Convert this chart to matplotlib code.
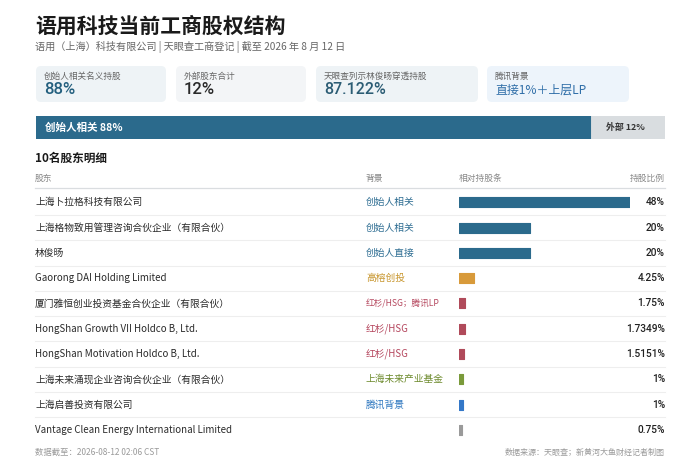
import matplotlib
matplotlib.use("Agg")
import matplotlib.pyplot as plt
from matplotlib.patches import FancyBboxPatch

plt.rcParams['font.family'] = ['Noto Sans CJK SC', 'DejaVu Sans']
NUM_FONT = ['Roboto', 'Noto Sans CJK SC', 'DejaVu Sans']

# ---------------- data ----------------
title = "语用科技当前工商股权结构"
subtitle = "语用（上海）科技有限公司 | 天眼查工商登记 | 截至 2026 年 8 月 12 日"

card_labels = ["创始人相关名义持股", "外部股东合计", "天眼查列示林俊旸穿透持股", "腾讯背景"]
card_values = ["88%", "12%", "87.122%", "直接1%＋上层LP"]

stack_labels = ["创始人相关", "外部"]
stack_values = [88, 12]

names = [
    "上海卜拉格科技有限公司",
    "上海格物致用管理咨询合伙企业（有限合伙）",
    "林俊旸",
    "Gaorong DAI Holding Limited",
    "厦门雅恒创业投资基金合伙企业（有限合伙）",
    "HongShan Growth VII Holdco B, Ltd.",
    "HongShan Motivation Holdco B, Ltd.",
    "上海未来涌现企业咨询合伙企业（有限合伙）",
    "上海启善投资有限公司",
    "Vantage Clean Energy International Limited",
]
backgrounds = ["创始人相关", "创始人相关", "创始人直接", "高榕创投", "红杉/HSG；腾讯LP",
               "红杉/HSG", "红杉/HSG", "上海未来产业基金", "腾讯背景", ""]
shares = [48, 20, 20, 4.25, 1.75, 1.7349, 1.5151, 1, 1, 0.75]

# ---------------- styles ----------------
BLUE = "#2B6A8C"
bg_text_colors = ["#2F6E93", "#2F6E93", "#2F6E93", "#C8962E", "#B5475E",
                  "#B5475E", "#B5475E", "#6E8B2E", "#2F78C0", "#888888"]
bar_colors = [BLUE, BLUE, BLUE, "#D89A3A", "#B04A5A",
              "#B04A5A", "#B04A5A", "#7A9A3A", "#3478C8", "#9A9A9A"]

W, H = 700, 467
fig = plt.figure(figsize=(W / 100, H / 100), dpi=100)
fig.patch.set_facecolor("white")
ax = fig.add_axes([0, 0, 1, 1])
ax.set_xlim(0, W)
ax.set_ylim(H, 0)
ax.axis("off")

L, R = 35, 665

# title
ax.text(L, 26, title, fontsize=15, fontweight="bold", color="#1a1a1a", va="center", ha="left")
ax.text(L, 47, subtitle, fontsize=7.3, color="#666666", va="center", ha="left")

# cards
card_x = [36, 176, 316, 487]
card_w = [130, 130, 162, 142]
card_bg = ["#EEF3F6", "#F3F5F7", "#EEF3F6", "#EDF4FB"]
card_val_col = ["#235F7E", "#2a2a2a", "#2B5C74", "#2F6EA8"]
card_val_size = [12, 12, 11.5, 8.6]
for k, (x0, w, lab, val, bgc, vc, vs) in enumerate(zip(card_x, card_w, card_labels, card_values,
                                                       card_bg, card_val_col, card_val_size)):
    ax.add_patch(FancyBboxPatch((x0, 66), w, 36, boxstyle="round,pad=0,rounding_size=5",
                                fc=bgc, ec="none"))
    ax.text(x0 + 8, 76, lab, fontsize=6.2, color="#666666", va="center", ha="left")
    if k < 3:
        ax.text(x0 + 8, 90, val, fontsize=vs, color=vc, va="center", ha="left",
                family=NUM_FONT, fontweight="medium")
    else:
        ax.text(x0 + 8, 90, val, fontsize=vs, color=vc, va="center", ha="left")

# stacked bar
ax_s = fig.add_axes([36 / W, 1 - 139 / H, 629 / W, 23 / H])
ax_s.set_xlim(0, sum(stack_values))
ax_s.set_ylim(-0.5, 0.5)
ax_s.axis("off")
ax_s.barh(0, stack_values[1], left=stack_values[0], height=1.0, color="#D9DDE0", lw=0)
ax_s.barh(0, stack_values[0], left=0, height=1.0, color=BLUE, ec=BLUE, lw=1.5, joinstyle="round")
ax_s.text(1.5, 0, f"{stack_labels[0]} {stack_values[0]}%", fontsize=7.6, fontweight="bold",
          color="white", va="center", ha="left")
ax_s.text(stack_values[0] + 2.6, 0, f"{stack_labels[1]} {stack_values[1]}%", fontsize=6.4,
          fontweight="bold", color="#333333", va="center", ha="left")

# section title and header
ax.text(L, 158, "10名股东明细", fontsize=8.4, fontweight="bold", color="#1a1a1a", va="center", ha="left")
hy = 178
ax.text(L, hy, "股东", fontsize=6.3, color="#888888", va="center", ha="left")
ax.text(366, hy, "背景", fontsize=6.3, color="#888888", va="center", ha="left")
ax.text(459, hy, "相对持股条", fontsize=6.3, color="#888888", va="center", ha="left")
ax.text(R, hy, "持股比例", fontsize=6.3, color="#888888", va="center", ha="right")
ax.plot([L, R], [188, 188], color="#DADDE0", lw=0.9)

# rows
y0, dy = 202.3, 25.3
n = len(names)
for i in range(n):
    y = y0 + dy * i
    ax.text(L, y, names[i], fontsize=7.0, color="#2a2a2a", va="center", ha="left")
    bsize = 6.2 if len(backgrounds[i]) > 9 else 7.0
    ax.text(366, y, backgrounds[i], fontsize=bsize, color=bg_text_colors[i], va="center", ha="left")
    ax.text(R, y, f"{shares[i]:g}%", fontsize=7.3, color="#222222",
            va="center", ha="right", family=NUM_FONT, fontweight="medium")
    if i < n - 1:
        ax.plot([L, R], [y + dy / 2, y + dy / 2], color="#EEEEEE", lw=0.8)

# detail bars
top = y0 - dy / 2
bot = y0 + dy * (n - 1) + dy / 2
ax_b = fig.add_axes([459 / W, 1 - bot / H, 171 / W, (bot - top) / H])
ax_b.set_xlim(0, max(shares))
ax_b.set_ylim(n - 0.5, -0.5)
ax_b.axis("off")
ax_b.barh(range(n), shares, height=10 / dy, color=bar_colors, edgecolor=bar_colors,
          lw=0.8, joinstyle="round")

# footer
ax.text(L, 452, "数据截至：2026-08-12 02:06 CST", fontsize=6.0, color="#9A9A9A", va="center", ha="left")
ax.text(R, 452, "数据来源：天眼查；新黄河大鱼财经记者制图", fontsize=5.8, color="#9A9A9A",
        va="center", ha="right")

fig.savefig("out.png", dpi=100, facecolor="white")
